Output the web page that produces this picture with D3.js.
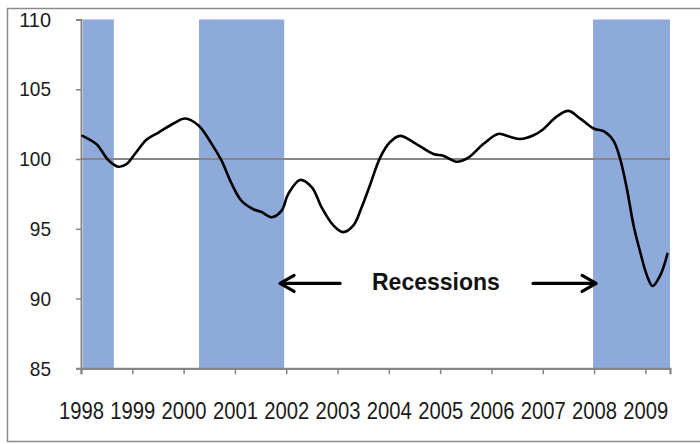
<!DOCTYPE html>
<html>
<head>
<meta charset="utf-8">
<script src="https://cdn.jsdelivr.net/npm/d3@7"></script>
<style>
  html, body { margin: 0; padding: 0; background: #fff; }
  svg { display: block; }
  .lbl { font-family: "Liberation Sans", Arial, sans-serif; fill: #1a1a1a; }
</style>
</head>
<body>
<svg id="chart" width="700" height="444"></svg>
<script>
// ---- data ----
const years = [1998.03, 1998.3, 1998.4, 1998.53, 1998.73, 1998.89, 1999.05, 1999.28, 1999.51, 1999.83,
  2000.03, 2000.29, 2000.55, 2000.74, 2000.94, 2001.13, 2001.36, 2001.52, 2001.72, 2001.91,
  2002.04, 2002.27, 2002.5, 2002.69, 2002.92, 2003.11, 2003.31, 2003.47, 2003.63, 2003.83,
  2004.02, 2004.22, 2004.48, 2004.87, 2005.06, 2005.32, 2005.55, 2005.84, 2006.13, 2006.36,
  2006.56, 2006.82, 2007.01, 2007.27, 2007.5, 2007.73, 2007.99, 2008.21, 2008.38, 2008.51,
  2008.64, 2008.77, 2008.9, 2009.03, 2009.14, 2009.29, 2009.43];
const values = [101.66, 101.07, 100.6, 99.93, 99.45, 99.64, 100.36, 101.4, 101.9, 102.6,
  102.9, 102.4, 101.07, 99.88, 98.2, 97.0, 96.4, 96.2, 95.83, 96.3,
  97.5, 98.5, 97.97, 96.54, 95.24, 94.76, 95.24, 96.54, 98.1, 100.1,
  101.2, 101.66, 101.2, 100.36, 100.24, 99.8, 100.1, 101.07, 101.8, 101.6,
  101.43, 101.7, 102.14, 103.04, 103.45, 102.9, 102.19, 101.95, 101.3, 100.0,
  97.86, 95.24, 93.33, 91.66, 90.9, 91.66, 93.2];
const recessionStart = [1998.04, 2000.30, 2007.98];
const recessionEnd   = [1998.64, 2001.96, 2009.48];
const yearTicks = [1998, 1999, 2000, 2001, 2002, 2003, 2004, 2005, 2006, 2007, 2008, 2009];
const valueTicks = [85, 90, 95, 100, 105, 110];
const baseline = 100;
const annotationText = "Recessions";

// ---- layout ----
const svg = d3.select("#chart");
const x = d3.scaleLinear().domain([1998, 2009.48]).range([81, 670]);
const y = d3.scaleLinear().domain([85, 110]).range([368.3, 19.5]);
const gray = "#868686";

// outer frame
svg.append("rect").attr("x", 7.5).attr("y", 8.5).attr("width", 700).attr("height", 433)
  .attr("fill", "none").attr("stroke", "#8a8a8a").attr("stroke-width", 1.5);

// recession bands
svg.append("g").selectAll("rect").data(recessionStart).join("rect")
  .attr("x", (d) => x(d))
  .attr("width", (d, i) => x(recessionEnd[i]) - x(d))
  .attr("y", y(110))
  .attr("height", y(85) - y(110))
  .attr("fill", "#8eaadb");

// baseline at 100
svg.append("line")
  .attr("x1", x(1998)).attr("x2", x(2009.48))
  .attr("y1", y(baseline)).attr("y2", y(baseline))
  .attr("stroke", gray).attr("stroke-width", 2);

// axes
const xAxis = d3.axisBottom(x).tickValues(yearTicks).tickFormat(d3.format("d")).tickSize(6).tickPadding(28);
const gx = svg.append("g").attr("transform", `translate(0,${y(85)})`).call(xAxis);
gx.select(".domain").attr("stroke", gray).attr("stroke-width", 2.2);
gx.selectAll(".tick line").attr("stroke", gray).attr("stroke-width", 1.5);
gx.selectAll(".tick text").attr("class", "lbl").attr("font-size", 23).attr("fill", "#1a1a1a")
  .attr("textLength", 45).attr("lengthAdjust", "spacingAndGlyphs");

const yAxis = d3.axisLeft(y).tickValues(valueTicks).tickSize(5).tickPadding(25);
const gy = svg.append("g").attr("transform", `translate(${x(1998)},0)`).call(yAxis);
gy.select(".domain").attr("stroke", gray).attr("stroke-width", 2);
gy.selectAll(".tick line").attr("stroke", gray).attr("stroke-width", 1.5);
gy.selectAll(".tick text").attr("class", "lbl").attr("font-size", 21).attr("fill", "#1a1a1a")
  .attr("textLength", (d) => String(d).length * 10.6).attr("lengthAdjust", "spacingAndGlyphs");

// line
const pts = years.map((yr, i) => [yr, values[i]]);
svg.append("path").datum(pts)
  .attr("fill", "none").attr("stroke", "#000").attr("stroke-width", 2.6)
  .attr("stroke-linejoin", "round").attr("stroke-linecap", "round")
  .attr("d", d3.line().x((d) => x(d[0])).y((d) => y(d[1])).curve(d3.curveCatmullRom.alpha(0.5)));

// annotation: arrows + text
const ay = y(91.08);
function arrow(yrFrom, yrTo) {
  const xFrom = x(yrFrom), xTo = x(yrTo);
  const g = svg.append("g").attr("stroke", "#000").attr("stroke-width", 3.2).attr("fill", "none")
    .attr("stroke-linecap", "round").attr("stroke-linejoin", "round");
  const dir = xTo > xFrom ? 1 : -1;
  g.append("line").attr("x1", xFrom).attr("x2", xTo - dir * 1).attr("y1", ay).attr("y2", ay);
  g.append("path").attr("d", `M${xTo - dir * 14},${ay - 8} L${xTo},${ay} L${xTo - dir * 14},${ay + 8}`);
}
arrow(2003.05, 2001.88);
arrow(2006.81, 2008.04);
svg.append("text").attr("x", 372).attr("y", ay + 7)
  .attr("font-family", "'Liberation Sans', Arial, sans-serif").attr("font-weight", "bold")
  .attr("font-size", 23).attr("fill", "#111")
  .text(annotationText);
</script>
</body>
</html>
